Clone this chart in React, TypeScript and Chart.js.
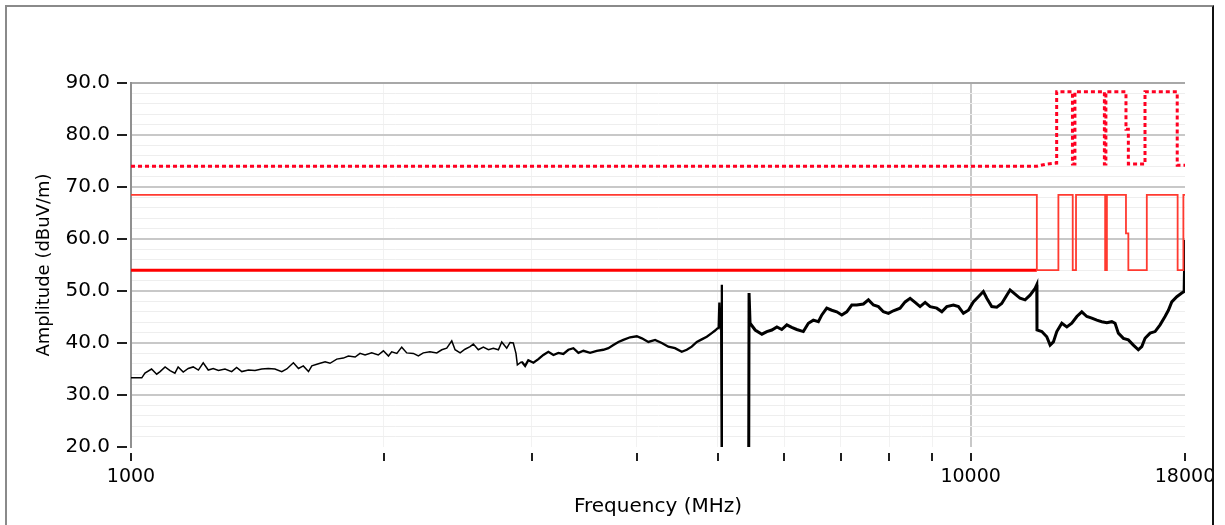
import React, { useEffect, useRef } from "react";
import { Chart, registerables } from "chart.js";

Chart.register(...registerables);

// ---- measured trace (frequency MHz, amplitude dBuV/m) ----
const traceFreq = [
  1000, 1030, 1039, 1058, 1073, 1083, 1098, 1113, 1128, 1138, 1154, 1170, 1186, 1203, 1219, 1236, 1253, 1271,
  1294, 1318, 1336, 1355, 1380, 1405, 1431, 1457, 1484, 1512, 1533, 1561, 1583, 1604, 1627, 1642, 1672, 1703,
  1726, 1758, 1790, 1815, 1849, 1874, 1900, 1935, 1970, 1998, 2026, 2044, 2073, 2101, 2130, 2169, 2199, 2229,
  2270, 2313, 2345, 2377, 2410, 2432, 2466, 2499, 2534, 2557, 2592, 2628, 2665, 2701, 2739, 2764, 2802, 2828,
  2853, 2874, 2885, 2920, 2947, 2973, 3015, 3056, 3098, 3141, 3185, 3228, 3273, 3318, 3364, 3411, 3458, 3522,
  3587, 3652, 3703, 3754, 3806, 3858, 3930, 4003, 4059, 4132, 4209, 4287, 4365, 4445, 4528, 4591, 4654, 4719,
  4783, 4850, 4916, 4962, 4993, 5010, 5020, 5030, 5045, 5053, 5056, 5440, 5446, 5461, 5538, 5641, 5718, 5798,
  5878, 5957, 6040, 6122, 6207, 6320, 6408, 6496, 6586, 6649, 6739, 6833, 6927, 7023, 7119, 7218, 7317, 7452,
  7555, 7659, 7765, 7871, 7981, 8090, 8240, 8355, 8470, 8587, 8705, 8826, 8948, 9113, 9240, 9366, 9538, 9671,
  9803, 9938, 10074, 10214, 10354, 10452, 10595, 10742, 10889, 11041, 11141, 11296, 11451, 11610, 11769, 11933,
  11988, 11995, 12155, 12321, 12435, 12547, 12664, 12840, 13018, 13196, 13380, 13563, 13752, 13940, 14134,
  14327, 14526, 14728, 14859, 14993, 15202, 15410, 15624, 15838, 15988, 16133, 16357, 16581, 16811, 17041,
  17199, 17358, 17600, 17841, 17957, 18000,
];
const traceAmp = [
  33.3, 33.3, 34.2, 35.0, 34.0, 34.5, 35.4, 34.7, 34.2, 35.4, 34.4, 35.1, 35.4, 34.8, 36.2, 34.8, 35.1, 34.7,
  35.0, 34.5, 35.3, 34.5, 34.8, 34.7, 35.0, 35.1, 35.0, 34.5, 35.0, 36.2, 35.1, 35.6, 34.5, 35.6, 36.0, 36.4,
  36.1, 36.9, 37.1, 37.5, 37.3, 38.0, 37.7, 38.1, 37.7, 38.5, 37.5, 38.3, 38.0, 39.2, 38.1, 38.0, 37.5, 38.1,
  38.3, 38.1, 38.7, 39.0, 40.4, 38.7, 38.1, 38.8, 39.3, 39.8, 38.7, 39.2, 38.7, 39.0, 38.7, 40.2, 39.0, 40.1,
  40.0, 38.0, 35.8, 36.4, 35.6, 36.7, 36.2, 36.9, 37.7, 38.3, 37.7, 38.1, 37.9, 38.7, 39.0, 38.1, 38.5, 38.1,
  38.5, 38.7, 39.0, 39.6, 40.2, 40.6, 41.1, 41.3, 40.9, 40.2, 40.6, 40.0, 39.3, 39.0, 38.3, 38.7, 39.3, 40.2,
  40.7, 41.2, 41.9, 42.4, 42.8, 42.9, 47.8, 43.5, 44.0, 51.2, 10, 10, 49.6, 43.8, 42.5, 41.7, 42.2, 42.5,
  43.1, 42.6, 43.5, 43.0, 42.6, 42.2, 43.8, 44.4, 44.1, 45.4, 46.7, 46.3, 46.0, 45.4, 46.0, 47.3, 47.3, 47.5,
  48.3, 47.3, 47.0, 46.0, 45.7, 46.2, 46.7, 47.9, 48.6, 47.8, 47.0, 47.8, 47.0, 46.7, 46.0, 47.0, 47.3, 47.0,
  45.7, 46.3, 47.9, 48.9, 49.9, 48.6, 47.0, 46.9, 47.6, 49.2, 50.2, 49.4, 48.6, 48.3, 49.2, 50.5,
  51.2, 42.5, 42.2, 41.2, 39.6, 40.2, 42.2, 43.8, 43.1, 43.8, 45.1, 46.0, 45.1, 44.8, 44.4,
  44.1, 43.9, 44.1, 43.8, 41.9, 40.9, 40.6, 39.6, 38.7, 39.3, 40.9, 41.9, 42.2, 43.5, 45.1,
  46.3, 47.9, 48.9, 49.6, 49.9, 59.8,
];

// ---- limit lines ----
const avgLimitFreq = [1000, 11990];
const avgLimitAmp = [54, 54];

const stepLimitFreq = [
  1000, 11990, 11990, 12720, 12720, 13230, 13230, 13350, 13350, 14460, 14460, 14530, 14530, 15310, 15310,
  15410, 15410, 16210, 16210, 17640, 17640, 17920, 17920, 18000,
];
const stepLimitAmp = [
  68.5, 68.5, 54, 54, 68.5, 68.5, 54, 54, 68.5, 68.5, 54, 54, 68.5, 68.5, 61.1, 61.1, 54, 54, 68.5, 68.5,
  54, 54, 68.5, 68.5,
];

const peakLimitFreq = [
  1000, 11990, 12300, 12660, 12660, 13220, 13220, 13310, 13310, 14430, 14430, 14490, 14490, 15310, 15310,
  15410, 15410, 16130, 16130, 17620, 17620, 18000,
];
const peakLimitAmp = [
  74.0, 74.0, 74.4, 74.6, 88.3, 88.3, 74.4, 74.4, 88.3, 88.3, 74.4, 74.4, 88.3, 88.3, 81.1, 81.1, 74.4,
  74.4, 88.3, 88.3, 74.2, 74.2,
];

// ---- axes ----
const xTickValues = [1000, 2000, 3000, 4000, 5000, 6000, 7000, 8000, 9000, 10000, 18000];
const xLabelValues = [1000, 10000, 18000];
const yMin = 20;
const yMax = 90;
const yMinorStep = 2;
const yMajorStep = 10;

const FONT = "'DejaVu Sans', Verdana, sans-serif";

const pairs = (xs: number[], ys: number[]) => xs.map((x, i) => ({ x, y: ys[i] }));

const tickMarks = {
  id: "tickMarks",
  afterDraw(chart: any) {
    const { ctx, chartArea, scales } = chart;
    ctx.save();
    ctx.strokeStyle = "#202020";
    ctx.lineWidth = 2;
    for (let v = yMin; v <= yMax; v += yMajorStep) {
      const y = Math.round(scales.y.getPixelForValue(v));
      ctx.beginPath();
      ctx.moveTo(chartArea.left - 14, y);
      ctx.lineTo(chartArea.left - 4, y);
      ctx.stroke();
    }
    for (const v of xTickValues) {
      const x = Math.round(scales.x.getPixelForValue(v));
      ctx.beginPath();
      ctx.moveTo(x, chartArea.bottom + 6);
      ctx.lineTo(x, chartArea.bottom + 14);
      ctx.stroke();
    }
    ctx.restore();
  },
};

export default function App() {
  const ref = useRef<HTMLCanvasElement | null>(null);
  useEffect(() => {
    if (!ref.current) return;
    const chart = new Chart(ref.current, {
      type: "line",
      data: {
        datasets: [
          {
            label: "Peak limit",
            data: pairs(peakLimitFreq, peakLimitAmp),
            borderColor: "#ff0022",
            borderWidth: 3,
            borderDash: [4, 3],
            pointRadius: 0,
            fill: false,
          },
          {
            label: "Limit",
            data: pairs(stepLimitFreq, stepLimitAmp),
            borderColor: "#ff3a30",
            borderWidth: 1.8,
            pointRadius: 0,
            fill: false,
          },
          {
            label: "Average limit",
            data: pairs(avgLimitFreq, avgLimitAmp),
            borderColor: "#ff0000",
            borderWidth: 3,
            pointRadius: 0,
            fill: false,
          },
          {
            label: "Trace",
            data: pairs(traceFreq, traceAmp),
            borderColor: "#000000",
            borderWidth: 1.5,
            pointRadius: 0,
            fill: false,
            segment: {
              borderWidth: (c: any) => {
                const x = c.p0.parsed.x;
                if (x >= 5400) return 3;
                if (x >= 2900) return 2.3;
                return 1.5;
              },
            },
          } as any,
        ],
      },
      options: {
        animation: false,
        responsive: false,
        maintainAspectRatio: false,
        layout: { padding: { left: 0, top: 83, right: 40, bottom: 0 } },
        plugins: { legend: { display: false }, tooltip: { enabled: false } },
        elements: { line: { tension: 0 } },
        scales: {
          x: {
            type: "logarithmic",
            min: 1000,
            max: 18000,
            afterFit: (s: any) => {
              s.height = 78;
              s.paddingLeft = 0;
              s.paddingRight = 0;
            },
            afterBuildTicks: (s: any) => {
              s.ticks = xTickValues.map((v) => ({ value: v }));
            },
            border: { display: false },
            grid: {
              drawTicks: false,
              color: (c: any) => {
                const v = c.tick?.value;
                if (v === 10000) return "#c8c8c8";
                if (v === 1000 || v === 18000) return "rgba(0,0,0,0)";
                return "#f2f2f2";
              },
              lineWidth: (c: any) => (c.tick?.value === 10000 ? 2 : 1),
            },
            ticks: {
              autoSkip: false,
              maxRotation: 0,
              padding: 19,
              color: "#000",
              font: { family: FONT, size: 19 },
              callback: (v: any) => (xLabelValues.includes(Number(v)) ? String(v) : ""),
            },
            title: {
              display: true,
              text: "Frequency (MHz)",
              color: "#000",
              font: { family: FONT, size: 20 },
              padding: { top: 0, bottom: 6 },
            },
          },
          y: {
            type: "linear",
            min: yMin,
            max: yMax,
            afterFit: (s: any) => {
              s.width = 131;
              s.paddingTop = 0;
              s.paddingBottom = 0;
            },
            border: { display: true, color: "#909090", width: 2 },
            grid: {
              drawTicks: false,
              color: (c: any) => {
                const v = c.tick?.value;
                if (v === yMin) return "rgba(0,0,0,0)";
                if (v === yMax) return "#a8a8a8";
                if (v % yMajorStep === 0) return "#c8c8c8";
                return "#eeeeee";
              },
              lineWidth: (c: any) => (c.tick?.value % yMajorStep === 0 ? 2 : 1),
            },
            ticks: {
              stepSize: yMinorStep,
              autoSkip: false,
              padding: 21,
              color: "#000",
              font: { family: FONT, size: 20 },
              callback: (v: any) => (Number(v) % yMajorStep === 0 ? Number(v).toFixed(1) : ""),
            },
            title: {
              display: true,
              text: "Amplitude (dBuV/m)",
              color: "#000",
              font: { family: FONT, size: 18 },
              padding: { top: 34, bottom: 0 },
            },
          },
        },
      },
      plugins: [tickMarks],
    });
    return () => chart.destroy();
  }, []);

  return (
    <div style={{ position: "absolute", left: 0, top: 0, width: 1225, height: 525, background: "#fff", overflow: "hidden" }}>
      <canvas ref={ref} width={1225} height={525} style={{ position: "absolute", left: 0, top: 0 }} />
      <div
        style={{
          position: "absolute",
          left: 5,
          top: 5,
          width: 1209,
          height: 560,
          borderLeft: "2px solid #8a8a8a",
          borderTop: "2px solid #8a8a8a",
          borderRight: "2px solid #111",
          boxSizing: "border-box",
          pointerEvents: "none",
        }}
      />
      <div style={{ position: "absolute", left: 1214, top: 0, width: 11, height: 525, background: "#fff" }} />
    </div>
  );
}
